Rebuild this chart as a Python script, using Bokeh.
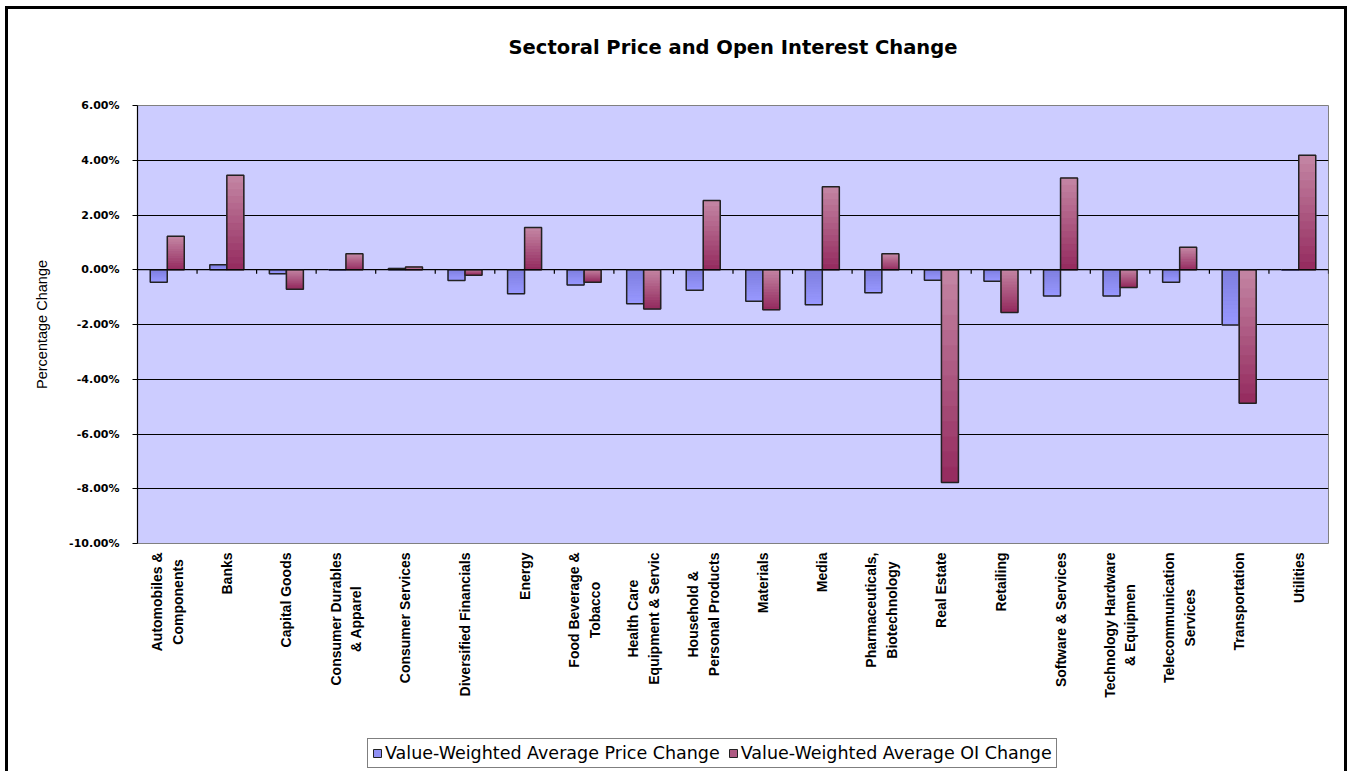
import math
from bokeh.plotting import figure
from bokeh.layouts import column
from bokeh.core.properties import value
from bokeh.models import (ColumnDataSource, FactorRange, Range1d, FixedTicker,
                          PrintfTickFormatter, Span, Legend, LegendItem)
from bokeh.transform import dodge
from bokeh.embed import file_html
from bokeh.resources import INLINE

# ---------------- data ----------------
sectors = ["Automobiles &\nComponents", "Banks", "Capital Goods",
           "Consumer Durables\n& Apparel", "Consumer Services",
           "Diversified Financials", "Energy", "Food Beverage &\nTobacco",
           "Health Care\nEquipment & Servic", "Household &\nPersonal Products",
           "Materials", "Media", "Pharmaceuticals,\nBiotechnology", "Real Estate",
           "Retailing", "Software & Services", "Technology Hardware\n& Equipmen",
           "Telecommunication\nServices", "Transportation", "Utilities"]

price_change = [-0.46, 0.18, -0.15, 0.00, 0.05, -0.39, -0.88, -0.56, -1.24, -0.75,
                -1.15, -1.28, -0.84, -0.38, -0.42, -0.96, -0.96, -0.46, -2.02, 0.00]
oi_change = [1.22, 3.45, -0.71, 0.58, 0.10, -0.20, 1.54, -0.46, -1.43, 2.53,
             -1.46, 3.03, 0.58, -7.77, -1.56, 3.35, -0.65, 0.82, -4.88, 4.18]

y_ticks = [-10, -8, -6, -4, -2, 0, 2, 4, 6]
price_label = "Value-Weighted Average Price Change"
oi_label = "Value-Weighted Average OI Change"
title_text = "Sectoral Price and Open Interest Change"
y_title = "Percentage Change"

# ---------------- style / layout constants ----------------
def mix(c1, c2, t):
    return "#%02x%02x%02x" % tuple(int(round(a + (b - a) * t)) for a, b in zip(c1, c2))

PRICE_TOP, PRICE_BOT = (126, 126, 222), (152, 152, 255)
OI_TOP, OI_BOT = (196, 134, 164), (148, 42, 94)
N_SLICES = 14
OFF = 0.143
BW = 0.285
W = 1336
LEFT, RIGHT = 129, 16
TITLE_H = 86
FRAME_H, MAIN_TOP, MAIN_BOT = 438, 10, 8
LAB_H = 220

xr = FactorRange(*sectors, range_padding=0)

def blank(fig):
    fig.axis.visible = False
    fig.grid.visible = False
    fig.outline_line_color = None
    fig.background_fill_color = "white"
    fig.border_fill_color = "white"

# ---------------- title strip ----------------
tf = figure(width=W, height=TITLE_H, x_range=Range1d(0, 1), y_range=Range1d(0, TITLE_H),
            output_backend="svg", toolbar_location=None,
            min_border_left=0, min_border_right=0, min_border_top=0, min_border_bottom=0)
blank(tf)
tf.text(x=[0.5], y=[TITLE_H - 38], text=[title_text], text_align="center",
        text_baseline="middle", text_font=value("DejaVu Sans"),
        text_font_size="19.5px", text_font_style="bold", text_color="black")

# ---------------- main chart ----------------
p = figure(width=W, height=FRAME_H + MAIN_TOP + MAIN_BOT, x_range=xr,
           y_range=Range1d(-10, 6), output_backend="svg", toolbar_location=None,
           min_border_left=LEFT, min_border_right=RIGHT,
           min_border_top=MAIN_TOP, min_border_bottom=MAIN_BOT)

p.background_fill_color = "#CCCCFF"
p.border_fill_color = "white"
p.outline_line_color = "#808080"
p.outline_line_width = 1

def add_bars(values, offset, top_c, bot_c):
    for j in range(N_SLICES):
        b, t, cols = [], [], []
        for v in values:
            b.append(v * j / N_SLICES)
            t.append(v * (j + 1) / N_SLICES)
            frac = (j + 0.5) / N_SLICES  # distance from zero line
            pos = 1 - frac if v >= 0 else frac  # 0 = top, 1 = bottom
            cols.append(mix(top_c, bot_c, pos))
        src = ColumnDataSource(dict(x=sectors, b=b, t=t, c=cols))
        p.vbar(x=dodge("x", offset, range=xr), bottom="b", top="t", width=BW,
               fill_color="c", line_color="c", line_width=1, source=src)
    src = ColumnDataSource(dict(x=sectors, t=values))
    p.vbar(x=dodge("x", offset, range=xr), bottom=0, top="t", width=BW,
           fill_color=None, line_color="#222222", line_width=1.5, source=src)

add_bars(price_change, -OFF, PRICE_TOP, PRICE_BOT)
add_bars(oi_change, OFF, OI_TOP, OI_BOT)

# zero line with category-boundary ticks
p.add_layout(Span(location=0, dimension="width", line_color="black", line_width=1.2))
tick_src = ColumnDataSource(dict(x=sectors, y0=[0] * len(sectors), y1=[-0.15] * len(sectors)))
p.segment(x0=dodge("x", 0.5, range=xr), x1=dodge("x", 0.5, range=xr),
          y0="y0", y1="y1", line_color="black", line_width=1.2, source=tick_src)

p.xgrid.grid_line_color = None
p.ygrid.ticker = FixedTicker(ticks=y_ticks)
p.ygrid.grid_line_color = "black"
p.ygrid.grid_line_width = 1.2

p.xaxis.visible = False
p.yaxis.ticker = FixedTicker(ticks=y_ticks)
p.yaxis.formatter = PrintfTickFormatter(format="%.2f%%")
p.yaxis.axis_line_color = "black"
p.yaxis.axis_line_width = 1.2
p.yaxis.major_tick_out = 5
p.yaxis.major_tick_in = 0
p.yaxis.minor_tick_line_color = None
p.yaxis.major_label_standoff = 13
p.yaxis.major_label_text_font = "DejaVu Sans"
p.yaxis.major_label_text_font_size = "11px"
p.yaxis.major_label_text_font_style = "bold"
p.yaxis.major_label_text_color = "black"
p.yaxis.axis_label = y_title
p.yaxis.axis_label_text_font = "Liberation Sans"
p.yaxis.axis_label_text_font_size = "14.5px"
p.yaxis.axis_label_text_font_style = "normal"
p.yaxis.axis_label_text_color = "black"
p.yaxis.axis_label_standoff = 16

# ---------------- category labels + legend ----------------
lf = figure(width=W, height=LAB_H, x_range=xr, y_range=Range1d(0, LAB_H),
            output_backend="svg", toolbar_location=None,
            min_border_left=LEFT, min_border_right=RIGHT,
            min_border_top=0, min_border_bottom=0)
blank(lf)

lab_src = ColumnDataSource(dict(x=sectors, y=[LAB_H - 1] * len(sectors), t=sectors))
lf.text(x="x", y="y", text="t", source=lab_src, angle=math.pi / 2,
        anchor="center_right", text_align="center", text_baseline="middle",
        text_font=value("Liberation Sans"), text_font_size="14px",
        text_font_style="bold", text_color="black", text_line_height=1.3)

lp = lf.vbar(x=[sectors[0]], top=[0], width=0.0, fill_color="#9090F4", line_color="#222222")
lo = lf.vbar(x=[sectors[0]], top=[0], width=0.0, fill_color="#AE5A82", line_color="#222222")
legend = Legend(items=[LegendItem(label=price_label, renderers=[lp]),
                       LegendItem(label=oi_label, renderers=[lo])],
                orientation="horizontal", location=(230, 3),
                border_line_color="black", border_line_width=1,
                background_fill_color="white", background_fill_alpha=1,
                glyph_width=10, glyph_height=10, label_standoff=3, spacing=8,
                padding=4, margin=0,
                label_text_font="DejaVu Sans", label_text_font_size="17.5px",
                label_text_color="black", label_height=14)
lf.add_layout(legend)

layout = column(tf, p, lf, spacing=0,
                styles={"margin-left": "5px", "margin-top": "6px",
                        "border": "3px solid black", "border-bottom": "0px"})
open("out.html", "w").write(file_html(layout, INLINE))
